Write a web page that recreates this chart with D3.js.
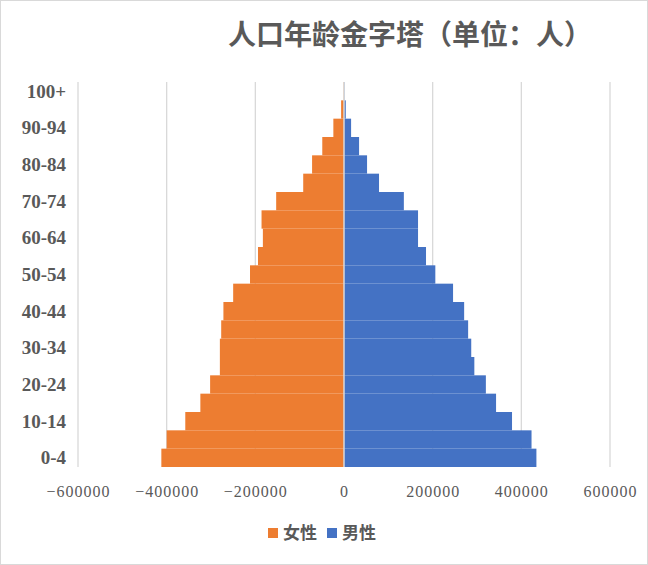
<!DOCTYPE html>
<html>
<head>
<meta charset="utf-8">
<script src="https://cdn.jsdelivr.net/npm/d3@7"></script>
<style>
  body { margin: 0; background: #fff; }
</style>
</head>
<body>
<div id="chart"></div>
<script>
// Age groups, bottom to top
var ageGroups = ["0-4", "5-9", "10-14", "15-19", "20-24", "25-29", "30-34", "35-39",
    "40-44", "45-49", "50-54", "55-59", "60-64", "65-69", "70-74", "75-79",
    "80-84", "85-89", "90-94", "95-99", "100+"];

// Female counts (drawn to the left)
var female = [412000, 400000, 358000, 324000, 302000, 280000, 280000, 277000,
    272000, 250000, 212000, 194000, 183000, 186000, 153000, 92000,
    72000, 49000, 24000, 6500, 800];

// Male counts (drawn to the right)
var male = [434000, 423000, 379000, 343000, 320000, 294000, 287000, 280000,
    271000, 246000, 206000, 185000, 167000, 167000, 135000, 79000,
    52000, 34000, 16000, 4000, 1000];

var xTicks = [-600000, -400000, -200000, 0, 200000, 400000, 600000];
var yLabels = ["0-4", "10-14", "20-24", "30-34", "40-44", "50-54", "60-64",
    "70-74", "80-84", "90-94", "100+"];

var seriesNames = ["女性", "男性"];
var colors = ["#ed7d31", "#4472c4"];

function initializeChart() {
    d3.select("#chart").select("svg").remove();

    var W = 648, H = 565;
    var margin = { top: 82, right: 38, bottom: 98, left: 78 },
        width = W - margin.left - margin.right,
        height = H - margin.top - margin.bottom;

    var root = d3.select("#chart").append("svg")
        .attr("width", W)
        .attr("height", H);

    // Outer chart border
    root.append("rect")
        .attr("x", 0.5).attr("y", 0.5)
        .attr("width", W - 1).attr("height", H - 1)
        .attr("fill", "#fff")
        .attr("stroke", "#d9d9d9");

    // Title
    root.append("text")
        .attr("x", 410)
        .attr("y", 45)
        .attr("text-anchor", "middle")
        .style("font-family", "'Noto Sans CJK SC', sans-serif")
        .style("font-weight", "700")
        .style("font-size", "28px")
        .style("fill", "#595959")
        .text("人口年龄金字塔（单位：人）");

    var svg = root.append("g")
        .attr("transform", `translate(${margin.left},${margin.top})`);

    // X scale
    var x = d3.scaleLinear()
        .domain([-600000, 600000])
        .range([0, width]);

    // Y scale, one band per age group, no gap
    var y = d3.scaleBand()
        .domain(ageGroups)
        .range([height, 0])
        .padding(0);

    // Vertical gridlines
    svg.append("g")
        .selectAll("line")
        .data(xTicks.filter(d => d !== 0))
        .enter()
        .append("line")
        .attr("x1", d => x(d)).attr("x2", d => x(d))
        .attr("y1", 0).attr("y2", height)
        .attr("stroke", "#d9d9d9")
        .attr("stroke-width", 1.3);

    // Female bars
    svg.selectAll(".female")
        .data(female)
        .enter()
        .append("rect")
        .attr("x", d => x(-d))
        .attr("y", (d, i) => y(ageGroups[i]))
        .attr("width", d => x(0) - x(-d))
        .attr("height", y.bandwidth())
        .attr("fill", colors[0]);

    // Male bars
    svg.selectAll(".male")
        .data(male)
        .enter()
        .append("rect")
        .attr("x", x(0))
        .attr("y", (d, i) => y(ageGroups[i]))
        .attr("width", d => x(d) - x(0))
        .attr("height", y.bandwidth())
        .attr("fill", colors[1]);

    // Category axis line at zero
    svg.append("line")
        .attr("x1", x(0)).attr("x2", x(0))
        .attr("y1", 0).attr("y2", height)
        .attr("stroke", "#d9d9d9")
        .attr("stroke-width", 1.5);

    // Y labels (every other age group)
    svg.append("g")
        .selectAll("text")
        .data(yLabels)
        .enter()
        .append("text")
        .attr("x", -12)
        .attr("y", d => y(d) + y.bandwidth() / 2)
        .attr("dy", "0.35em")
        .attr("text-anchor", "end")
        .style("font-family", "'Liberation Serif', serif")
        .style("font-weight", "700")
        .style("font-size", "19px")
        .style("fill", "#595959")
        .text(d => d);

    // X axis labels
    var xAxis = svg.append("g")
        .attr("transform", `translate(0,${height})`)
        .call(d3.axisBottom(x).tickValues(xTicks).tickSize(0).tickPadding(19)
            .tickFormat(d => d < 0 ? "\u2212" + Math.abs(d) : String(d)));
    xAxis.select(".domain").remove();
    xAxis.selectAll("text")
        .style("font-family", "'Liberation Serif', serif")
        .style("font-size", "16px")
        .style("letter-spacing", "1px")
        .style("fill", "#595959");

    // Legend
    var legend = root.append("g")
        .attr("transform", "translate(268,533)");
    var items = [{ name: seriesNames[0], color: colors[0], x: 0 },
                 { name: seriesNames[1], color: colors[1], x: 59 }];
    items.forEach(function (it) {
        legend.append("rect")
            .attr("x", it.x).attr("y", -5)
            .attr("width", 10).attr("height", 10)
            .attr("fill", it.color);
        legend.append("text")
            .attr("x", it.x + 15)
            .attr("y", 0)
            .attr("dy", "0.36em")
            .style("font-family", "'Noto Sans CJK SC', sans-serif")
            .style("font-weight", "700")
            .style("font-size", "17px")
            .style("fill", "#595959")
            .text(it.name);
    });
}

document.addEventListener('DOMContentLoaded', initializeChart);
</script>
</body>
</html>
